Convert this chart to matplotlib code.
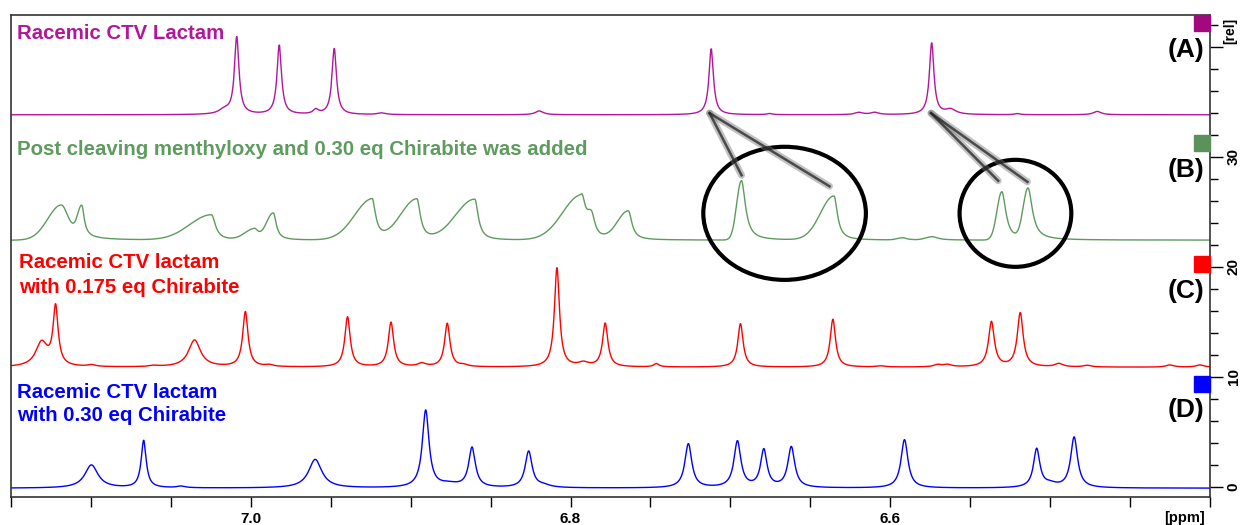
import numpy as np
import matplotlib
matplotlib.use("Agg")
import matplotlib.pyplot as plt
from matplotlib.patches import Ellipse, Rectangle

plt.rcParams['font.family'] = ['Liberation Sans', 'DejaVu Sans']

# ---- peak lists (ppm, height above baseline, half widths) ----
# (A) racemic CTV lactam
a_base = 33.8
a_ppm = [7.0165, 7.0088, 6.9822, 6.9593, 6.9478, 6.918, 6.8195, 6.712, 6.6755,
         6.6196, 6.6097, 6.5741, 6.5622, 6.5204, 6.4705]
a_h = [0.4, 7.0, 6.3, 0.4, 6.0, 0.15, 0.35, 6.0, 0.1, 0.2, 0.2, 6.5, 0.45, 0.1, 0.3]
a_w = [0.004, 0.0017, 0.0017, 0.002, 0.0017, 0.003, 0.003, 0.0017, 0.002,
       0.003, 0.003, 0.0017, 0.004, 0.002, 0.003]

# (B) post cleaving + 0.30 eq Chirabite (skewed peaks: slow rise on high-ppm side)
b_base = 22.4
b_ppm = [7.1185, 7.1057, 7.0246, 6.9978, 6.9859, 6.9241, 6.8961, 6.8599, 6.7931,
         6.7869, 6.7638, 6.6931, 6.6352, 6.5922, 6.5735, 6.5302, 6.5138]
b_h = [3.2, 2.6, 2.3, 1.0, 2.4, 3.7, 3.7, 3.7, 4.1, 1.9, 2.6, 5.4, 4.0, 0.2, 0.3, 4.4, 4.6]
b_wl = [0.010, 0.003, 0.016, 0.007, 0.005, 0.013, 0.012, 0.014, 0.014,
        0.003, 0.008, 0.0035, 0.010, 0.004, 0.005, 0.0036, 0.0036]
b_wr = [0.006, 0.0018, 0.003, 0.003, 0.0022, 0.0026, 0.0026, 0.0026, 0.003,
        0.0025, 0.0026, 0.0030, 0.0026, 0.003, 0.004, 0.0030, 0.0032]

# (C) racemic CTV lactam + 0.175 eq Chirabite
c_base = 10.85
c_ppm = [7.1308, 7.1221, 7.0995, 7.0602, 7.0352, 7.0034, 6.9884, 6.9395, 6.9123,
         6.8929, 6.8771, 6.8667, 6.8085, 6.7919, 6.7783, 6.7463, 6.6937, 6.6359,
         6.6059, 6.5703, 6.5641, 6.5367, 6.5187, 6.4944, 6.4767, 6.425, 6.4062]
c_h = [2.2, 5.3, 0.15, 0.1, 2.45, 5.0, 0.15, 4.55, 4.05, 0.3, 3.95, 0.15, 9.0, 0.35,
       3.95, 0.3, 3.95, 4.35, 0.1, 0.2, 0.2, 4.1, 4.9, 0.3, 0.15, 0.2, 0.2]
c_w = [0.0045, 0.0019, 0.003, 0.003, 0.0045, 0.002, 0.003, 0.002, 0.002, 0.003,
       0.002, 0.003, 0.0019, 0.004, 0.002, 0.002, 0.002, 0.002, 0.003, 0.003,
       0.003, 0.0022, 0.0022, 0.003, 0.003, 0.003, 0.003]

# (D) racemic CTV lactam + 0.30 eq Chirabite
d_base = -0.15
d_ppm = [7.0997, 7.067, 7.0435, 6.9597, 6.8906, 6.876, 6.8616, 6.8262, 6.8168,
         6.7263, 6.6956, 6.6791, 6.6619, 6.5911, 6.5084, 6.4999, 6.485]
d_h = [2.1, 4.3, 0.15, 2.6, 7.0, 0.3, 3.6, 3.3, 0.2, 4.0, 4.2, 3.4, 3.7, 4.4, 3.5, 0.3, 4.6]
d_w = [0.005, 0.0019, 0.003, 0.005, 0.0025, 0.008, 0.0025, 0.0026, 0.005, 0.0026,
       0.0026, 0.0024, 0.0026, 0.0026, 0.0024, 0.005, 0.0026]

labels_txt = ["Racemic CTV Lactam",
              "Post cleaving menthyloxy and 0.30 eq Chirabite was added",
              "Racemic CTV lactam\nwith 0.175 eq Chirabite",
              "Racemic CTV lactam\nwith 0.30 eq Chirabite"]
letters = ["(A)", "(B)", "(C)", "(D)"]
colors = ["#B3169B", "#5E9B5E", "#FF0000", "#0000FF"]
square_colors = ["#A3087F", "#5B915B", "#FF0000", "#0000FF"]

# annotation circles and pointer lines (ppm, rel)
ellipses = [(6.6661, 24.84, 0.1017, 12.1), (6.5217, 24.84, 0.0699, 9.73)]
pointers = [((6.713, 33.95), (6.693, 28.3)), ((6.713, 33.95), (6.638, 27.3)),
            ((6.5745, 33.95), (6.5325, 27.8)), ((6.5745, 33.95), (6.5142, 27.7))]


def spectrum(x, base, ppm, h, wl, wr=None, gauss_left=False):
    # lorentzian lines; optionally a gaussian flank on the high-ppm side
    if wr is None:
        wr = wl
    y = np.full_like(x, base)
    for p, hh, a, b in zip(ppm, h, wl, wr):
        d = x - p
        right = hh / (1 + (d / b) ** 2)
        if gauss_left:
            left = hh * np.exp(-np.log(2) * (d / a) ** 2)
        else:
            left = hh / (1 + (d / a) ** 2)
        y += np.where(d > 0, left, right)
    return y


x = np.linspace(6.40, 7.15, 5000)
specs = [spectrum(x, a_base, a_ppm, a_h, a_w),
         spectrum(x, b_base, b_ppm, b_h, b_wl, b_wr, gauss_left=True),
         spectrum(x, c_base, c_ppm, c_h, c_w),
         spectrum(x, d_base, d_ppm, d_h, d_w)]

fig = plt.figure(figsize=(12.41, 5.25), dpi=100)
ax = fig.add_axes([11 / 1241, 28 / 525, 1199 / 1241, 482.3 / 525])

for y, c in zip(specs, colors):
    ax.plot(x, y, color=c, lw=1.0)

ax.set_xlim(7.15, 6.40)
ax.set_ylim(-0.95, 42.9)

# spectrum titles
text_pos = [[(7.146, 40.7)], [(7.146, 30.15)], [(7.145, 19.9), (7.145, 17.6)],
            [(7.146, 8.06), (7.146, 5.95)]]
for txt, pos, c in zip(labels_txt, text_pos, colors):
    for line, (px, py) in zip(txt.split("\n"), pos):
        ax.text(px, py, line, color=c, fontsize=14.7, fontweight='bold',
                ha='left', va='baseline')

letter_y = [39.7, 28.8, 17.8, 6.97]
for lt, ly in zip(letters, letter_y):
    ax.text(6.4037, ly, lt, fontsize=19, fontweight='bold', color='black',
            ha='right', va='center')

square_top = [42.9, 32.0, 21.0, 10.06]
for st, sc in zip(square_top, square_colors):
    ax.add_patch(Rectangle((1 - 16 / 1199, st - 16 / 11), 16 / 1199, 16 / 11,
                           transform=ax.get_yaxis_transform(), color=sc,
                           clip_on=False, zorder=5))

for cx, cy, w, h in ellipses:
    ax.add_patch(Ellipse((cx, cy), w, h, fill=False, ec='black', lw=3, zorder=6))

for (x0, y0), (x1, y1) in pointers:
    ax.plot([x0, x1], [y0, y1], color='#777777', lw=5, alpha=0.45,
            solid_capstyle='round', zorder=6)
    ax.plot([x0, x1], [y0, y1], color='#222222', lw=1.8, alpha=0.75, zorder=7)

# axes styling
xt = np.arange(6.40, 7.151, 0.05)
ax.set_xticks(xt)
ax.set_xticklabels([f"{t:.1f}" if round(t, 2) in (7.0, 6.8, 6.6) else "" for t in xt])
ax.tick_params(axis='x', direction='out', length=7, width=1, pad=4, labelsize=11)
for lab in ax.get_xticklabels():
    lab.set_fontweight('bold')

ax.yaxis.tick_right()
ax.set_yticks([0, 10, 20, 30, 40])
ax.set_yticklabels(["0", "10", "20", "30", ""])
ax.set_yticks(np.arange(0, 43, 2), minor=True)
ax.tick_params(axis='y', which='major', direction='out', length=9, width=1, pad=3,
               labelsize=11, labelrotation=90)
ax.tick_params(axis='y', which='minor', direction='out', length=6, width=1)
for lab in ax.get_yticklabels():
    lab.set_fontweight('bold')
    lab.set_va('center')

for s in ax.spines.values():
    s.set_color('#333333')
    s.set_linewidth(1.2)

ax.text(1.0167, 0.966, "[rel]", transform=ax.transAxes, rotation=90, fontsize=10,
        fontweight='bold', ha='center', va='center')
ax.text(0.979, -0.043, "[ppm]", transform=ax.transAxes, fontsize=10.5,
        fontweight='bold', ha='center', va='center')

fig.savefig("out.png", dpi=100)
